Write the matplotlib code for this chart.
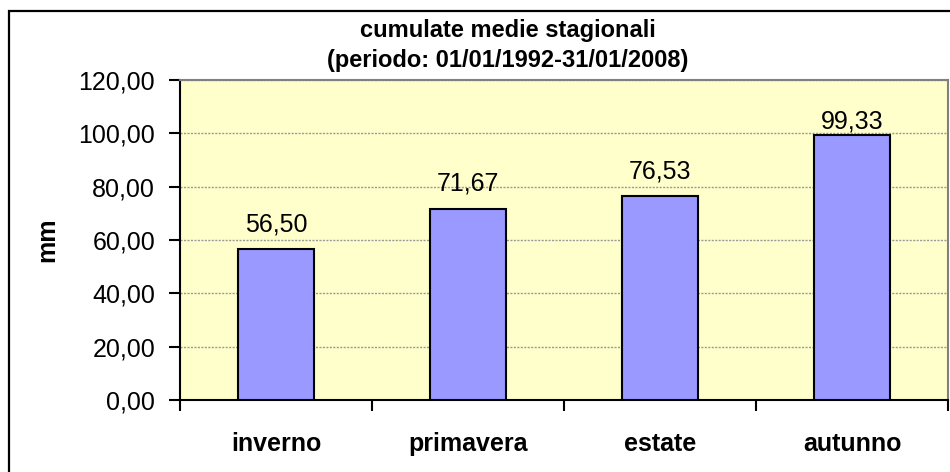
import matplotlib.pyplot as plt
import matplotlib.patches as patches
from matplotlib.ticker import FuncFormatter, FixedLocator

# Data
seasons = ["inverno", "primavera", "estate", "autunno"]
rain_mm = [56.50, 71.67, 76.53, 99.33]
y_ticks = [0, 20, 40, 60, 80, 100, 120]

plt.rcParams["font.family"] = ["Liberation Sans", "DejaVu Sans"]

fig = plt.figure(figsize=(9.5, 4.72), dpi=100)
ax = fig.add_axes([180 / 950, 72 / 472, 768 / 950, 320 / 472])
ax.set_facecolor("#FFFFCC")

x = list(range(len(seasons)))
ax.bar(x, rain_mm, width=0.4, color="#9999FF", edgecolor="black", linewidth=1.5, zorder=3)

ymax = y_ticks[-1]
# labels sit a bit above the bar, but are kept inside the plot area (like Excel)
for xi, v in zip(x, rain_mm):
    ly = min(v + 0.056 * ymax, 0.85 * ymax)
    ax.text(xi, ly, f"{v:.2f}".replace(".", ","), ha="center", va="baseline",
            fontsize=18, zorder=4)

ax.set_xlim(-0.5, len(seasons) - 0.5)
ax.set_ylim(0, ymax)
ax.set_yticks(y_ticks)
ax.yaxis.set_major_formatter(FuncFormatter(lambda v, p: f"{v:.2f}".replace(".", ",")))
ax.tick_params(axis="y", direction="out", length=8, width=1.5, pad=10, labelsize=18)
ax.grid(axis="y", color="#999999", linestyle=(0, (1.5, 1)), linewidth=1, zorder=1)

ax.set_xticks(x)
ax.set_xticklabels(seasons, fontsize=18, fontweight="bold")
ax.tick_params(axis="x", which="major", length=0, pad=23)
ax.xaxis.set_minor_locator(FixedLocator([i - 0.5 for i in range(len(seasons) + 1)]))
ax.tick_params(axis="x", which="minor", direction="out", length=8, width=1.5)

ax.set_ylabel("mm", fontsize=18, fontweight="bold", labelpad=14)

for side in ["left", "bottom"]:
    ax.spines[side].set_color("black")
    ax.spines[side].set_linewidth(1.5)
for side in ["top", "right"]:
    ax.spines[side].set_color("#808080")
    ax.spines[side].set_linewidth(1.5)

fig.text(508 / 950, 1 - 31 / 472, "cumulate medie stagionali", ha="center", va="center",
         fontsize=17, fontweight="bold")
fig.text(508 / 950, 1 - 61 / 472, "(periodo: 01/01/1992-31/01/2008)", ha="center", va="center",
         fontsize=17, fontweight="bold")

# chart area border (right/bottom edges fall outside the picture)
border = patches.Rectangle((9 / 950, -0.2), 1.2, 1.2 - 11 / 472, transform=fig.transFigure,
                           fill=False, edgecolor="black", linewidth=1.6, clip_on=False)
fig.patches.append(border)

fig.savefig("out.png", dpi=100)
